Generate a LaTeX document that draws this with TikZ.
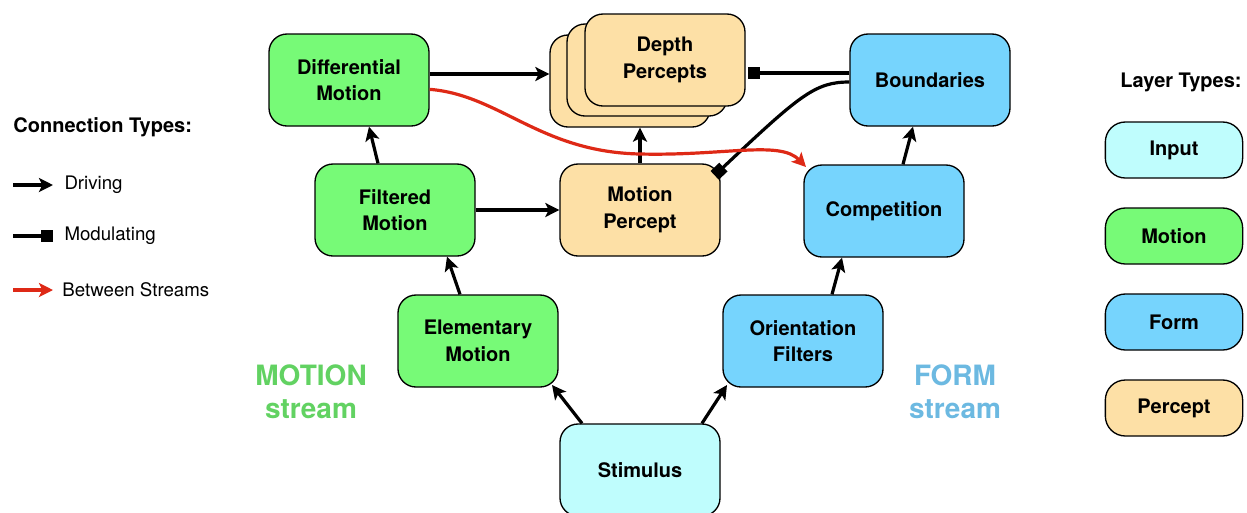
\documentclass[tikz,border=0pt]{standalone}
\usepackage{fontspec}
\setmainfont{TeX Gyre Heros}
\usetikzlibrary{arrows.meta}

\definecolor{inputfill}{RGB}{191,253,253}
\definecolor{motionfill}{RGB}{119,250,119}
\definecolor{formfill}{RGB}{118,212,253}
\definecolor{perceptfill}{RGB}{253,224,166}
\definecolor{crossred}{RGB}{222,41,22}
\definecolor{motiontext}{RGB}{98,210,98}
\definecolor{formtext}{RGB}{108,185,225}

\tikzset{every picture/.style={line width=0.75pt}}
\tikzset{
  layer/.style={draw, line width=1pt, rounded corners=13.5pt, minimum width=120pt, minimum height=69pt,
    align=center, font=\fontsize{15}{20}\selectfont\bfseries},
  inputlayer/.style={layer, fill=inputfill},
  motionlayer/.style={layer, fill=motionfill},
  formlayer/.style={layer, fill=formfill},
  perceptlayer/.style={layer, fill=perceptfill},
  keybox/.style={draw, line width=1pt, rounded corners=15pt, minimum width=103pt, minimum height=42pt,
    font=\fontsize{15}{18}\selectfont\bfseries},
  drive/.style={line width=2.4pt, -{Stealth[length=10.5pt,width=10.5pt,inset=2.5pt]}},
  modulate/.style={line width=2.4pt, -{Square[length=9pt,width=9pt]}},
  crossdrive/.style={draw=crossred, line width=2.4pt, -{Stealth[length=10.5pt,width=10.5pt,inset=2.5pt]}},
  keytext/.style={anchor=west, inner sep=0.75pt, font=\fontsize{14}{16}\selectfont},
  streamlabel/.style={align=center, font=\fontsize{21}{25}\selectfont\bfseries},
}

\begin{document}
\begin{tikzpicture}[x=0.75pt,y=0.75pt,yscale=-1,xscale=1]
\useasboundingbox (0,0) rectangle (1247,512);

% Layers
\node [inputlayer] (stim) at (640,470) {Stimulus};
\node [motionlayer] (elem) at (478,341) {Elementary\\Motion};
\node [formlayer] (orient) at (803,341) {Orientation\\Filters};
\node [motionlayer] (filt) at (395,210) {Filtered\\Motion};
\node [perceptlayer] (perc) at (640,210) {Motion\\Percept};
\node [formlayer] (comp) at (884,211) {Competition};
\node [motionlayer] (diffm) at (349,80) {Differential\\Motion};
\node [formlayer] (bound) at (930,80) {Boundaries};
% Depth Percepts (stack)
\node [perceptlayer] (dep3) at (630,81) {};
\node [perceptlayer] (dep2) at (647,70) {};
\node [perceptlayer] (dep1) at (665,60) {Depth\\Percepts};

% Driving (yscale=-1: positive yshift points down)
\draw [drive] ([xshift=-58pt*0.75]stim.north) -- ([xshift=74pt*0.75,yshift=-2pt]elem.south);
\draw [drive] ([xshift=62pt*0.75]stim.north) -- ([xshift=-76pt*0.75,yshift=-2pt]orient.south);
\draw [drive] ([xshift=-18pt*0.75]elem.north) -- ([xshift=52pt*0.75]filt.south);
\draw [drive] ([xshift=-17pt*0.75]filt.north) -- ([xshift=20pt*0.75]diffm.south);
\draw [drive] (filt.east) -- (perc.west);
\draw [drive] (perc.north) -- (perc.north |- dep3.south);
\draw [drive] ([yshift=-4.5pt]diffm.east) -- ([yshift=-4.5pt]diffm.east -| dep3.west);
\draw [drive] ([xshift=29pt*0.75]orient.north) -- ([xshift=-42pt*0.75]comp.south);
\draw [drive] ([xshift=19pt*0.75]comp.north) -- ([xshift=-17pt*0.75]bound.south);

% Modulating
\draw [modulate] ([yshift=-5.25pt]bound.west) -- ([xshift=2pt,yshift=-5.25pt]bound.west -| dep1.east);
\draw [modulate] ([yshift=1.5pt]bound.west) .. controls (815,82) and (800,95) .. ([xshift=-4.5pt,yshift=9pt]perc.north east);

% Between streams
\draw [crossdrive] ([yshift=7pt]diffm.east) .. controls (500,95) and (540,152) .. (640,154) .. controls (725,156) and (780,140) .. ([xshift=2pt,yshift=2pt]comp.north west);

% Stream labels
\node [streamlabel, text=motiontext] (mlabel) at (311,392) {MOTION\\stream};
\node [streamlabel, text=formtext] (flabel) at (955,392) {FORM\\stream};

% Connection key
\node [anchor=west, inner sep=0.75pt, font=\fontsize{15}{18}\selectfont\bfseries] (ctitle) at (12,127) {Connection Types:};
\coordinate (k1) at (13,185);
\node [keytext] (kdrive) at (63,185) {Driving};
\draw [drive] (k1) -- (kdrive.west -| 53,0);
\coordinate (k2) at (13,236);
\node [keytext] (kmod) at (63,236) {Modulating};
\draw [modulate] (k2) -- (kmod.west -| 53,0);
\coordinate (k3) at (13,290);
\node [keytext] (kcross) at (61,290) {Between Streams};
\draw [crossdrive] (k3) -- (kcross.west -| 53,0);

% Layer key
\node [inner sep=0.75pt, font=\fontsize{15}{18}\selectfont\bfseries] (ltitle) at (1181,82) {Layer Types:};
\node [keybox, fill=inputfill] (kinput) at (1174,150) {Input};
\node [keybox, fill=motionfill] (kmotion) at (1174,236) {Motion};
\node [keybox, fill=formfill] (kform) at (1174,322) {Form};
\node [keybox, fill=perceptfill] (kpercept) at (1174,408) {Percept};

\end{tikzpicture}
\end{document}
